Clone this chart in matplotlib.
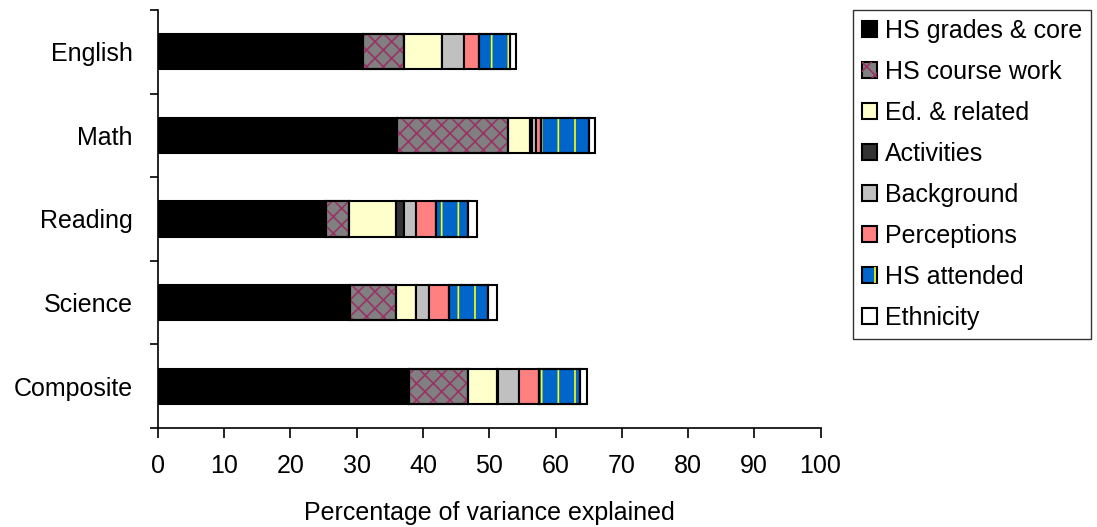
import matplotlib.pyplot as plt
import numpy as np
from matplotlib.patches import Patch

plt.rcParams['font.family'] = ['Liberation Sans', 'DejaVu Sans']
plt.rcParams['hatch.linewidth'] = 1.2

subjects = ["English", "Math", "Reading", "Science", "Composite"]
groups = ["HS grades & core", "HS course work", "Ed. & related", "Activities",
          "Background", "Perceptions", "HS attended", "Ethnicity"]

# percentage of variance explained, by predictor group (one list per group)
hs_grades = [30.9, 36.1, 25.3, 29.0, 37.9]
course_work = [6.2, 16.7, 3.6, 7.0, 8.9]
ed_related = [5.7, 3.4, 7.1, 3.0, 4.3]
activities = [0.0, 0.2, 1.1, 0.0, 0.2]
background = [3.4, 0.6, 1.9, 1.9, 3.2]
perceptions = [2.3, 0.8, 2.9, 3.0, 3.0]
hs_attended = [4.7, 7.2, 4.9, 5.9, 6.2]
ethnicity = [0.8, 1.0, 1.3, 1.3, 1.0]

series = [hs_grades, course_work, ed_related, activities,
          background, perceptions, hs_attended, ethnicity]
faces = ["#000000", "#808080", "#FFFFCC", "#333333",
         "#C0C0C0", "#FF8080", "#0066CC", "#FFFFFF"]
hatches = [None, "xx", None, None, None, None, "|", None]
hatch_colors = [None, "#993366", None, None, None, None, "#FFFF00", None]

fig = plt.figure(figsize=(10.97, 5.27), dpi=100)
ax = fig.add_axes([0.144, 0.188, 0.604, 0.793])

y = np.arange(len(subjects))
left = np.zeros(len(subjects))
handles = []
for name, vals, fc, h, hc in zip(groups, series, faces, hatches, hatch_colors):
    vals = np.array(vals)
    ax.barh(y, vals, left=left, height=0.42, color=fc, edgecolor="black",
            linewidth=1.5, zorder=2)
    base = Patch(facecolor=fc, edgecolor="black", linewidth=1.5)
    if h:
        # hatch drawn as a separate layer so it can have its own colour
        ax.barh(y, vals, left=left, height=0.42, color="none", edgecolor=hc,
                hatch=h, linewidth=0, zorder=3)
        ax.barh(y, vals, left=left, height=0.42, color="none",
                edgecolor="black", linewidth=1.5, zorder=4)
        over = Patch(facecolor="none", edgecolor=hc, hatch=h, linewidth=0)
        handles.append((base, over))
    else:
        handles.append(base)
    left += vals

ax.set_xlim(0, 100)
ax.set_ylim(4.5, -0.5)
ax.set_xticks(np.arange(0, 101, 10))
ax.tick_params(axis="x", labelsize=18, length=7, width=1.2, direction="out",
               pad=12)
ax.set_yticks(y)
ax.set_yticklabels(subjects)
ax.tick_params(axis="y", which="major", length=0, labelsize=18, pad=18)
ax.set_yticks(np.arange(-0.5, 5, 1), minor=True)
ax.tick_params(axis="y", which="minor", length=6, width=1.2, direction="out")
ax.set_xlabel("Percentage of variance explained", fontsize=18, labelpad=16)

for side in ["top", "right"]:
    ax.spines[side].set_visible(False)
for side in ["left", "bottom"]:
    ax.spines[side].set_linewidth(1.2)

leg = fig.legend(handles, groups, loc="upper left",
                 bbox_to_anchor=(0.778, 0.981), bbox_transform=fig.transFigure,
                 frameon=True, fancybox=False, fontsize=18, borderaxespad=0,
                 handlelength=0.6, handleheight=0.6, handletextpad=0.3,
                 labelspacing=0.68, borderpad=0.35)
leg.get_frame().set_edgecolor("black")
leg.get_frame().set_linewidth(1.0)

fig.savefig("out.png", dpi=100)
